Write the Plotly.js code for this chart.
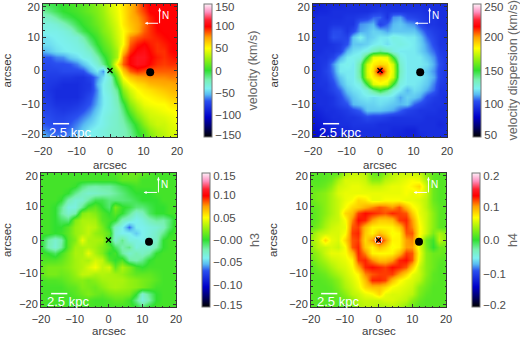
<!DOCTYPE html>
<html><head><meta charset="utf-8">
<script src="https://cdn.plot.ly/plotly-3.0.1.min.js"></script>
<style>html,body{margin:0;padding:0;background:#fff}#c{width:520px;height:337px}</style>
</head><body><div id="c"></div>
<script>
const arcsec=[-20,-18,-16,-14,-12,-10,-8,-6,-4,-2,0,2,4,6,8,10,12,14,16,18,20];
const rowsY=[20,18,16,14,12,10,8,6,4,2,0,-2,-4,-6,-8,-10,-12,-14,-16,-18,-20];
const velocity=[
[-8,-5,-3,2,5,8,10,15,22,28,40,48,58,68,80,95,100,100,100,100,100],
[-18,-12,-6,0,3,6,10,15,20,27,38,46,56,68,80,90,100,100,100,100,100],
[-28,-25,-18,-8,-3,2,6,10,18,25,35,45,55,68,75,85,95,100,100,100,100],
[-35,-35,-32,-25,-15,-5,2,8,15,22,32,42,55,65,72,82,92,100,100,100,100],
[-38,-38,-38,-35,-30,-15,-5,3,10,20,28,40,50,62,72,85,92,98,100,100,100],
[-45,-42,-40,-38,-35,-32,-20,-5,5,15,25,38,50,78,85,90,92,95,98,100,100],
[-45,-45,-42,-40,-38,-35,-30,-15,0,10,20,35,50,85,95,100,95,92,95,98,100],
[-55,-50,-45,-42,-40,-38,-35,-28,-10,5,15,30,65,92,102,105,98,92,92,98,100],
[-68,-68,-62,-60,-50,-45,-38,-35,-22,-5,12,30,80,100,108,108,100,95,92,95,98],
[-72,-72,-70,-70,-68,-62,-52,-42,-32,-15,10,55,85,100,108,105,98,92,90,92,92],
[-75,-75,-75,-72,-72,-72,-70,-55,-42,-60,0,30,65,85,92,88,85,85,85,85,85],
[-75,-78,-78,-80,-80,-82,-82,-75,-60,-45,-30,15,50,65,72,75,78,78,78,80,80],
[-78,-80,-82,-85,-85,-85,-82,-80,-55,-40,-30,0,35,50,58,62,68,70,72,72,75],
[-78,-82,-85,-85,-85,-85,-82,-78,-60,-40,-32,-15,22,40,50,55,58,62,65,68,70],
[-78,-80,-85,-85,-85,-85,-80,-72,-58,-42,-35,-22,10,32,45,50,52,55,58,62,65],
[-75,-78,-82,-82,-82,-80,-75,-68,-55,-42,-35,-25,-5,22,35,45,48,50,50,55,58],
[-75,-75,-78,-80,-78,-75,-70,-62,-50,-40,-35,-28,-12,12,28,38,42,45,48,50,52],
[-70,-72,-75,-75,-72,-68,-62,-55,-45,-38,-32,-28,-18,0,18,30,38,40,42,45,48],
[-68,-70,-72,-72,-68,-62,-55,-48,-42,-38,-32,-28,-22,-10,5,22,32,38,38,42,45],
[-62,-66,-68,-68,-64,-58,-50,-42,-38,-35,-30,-28,-25,-15,0,12,25,32,36,40,42],
[-50,-62,-64,-64,-60,-55,-45,-40,-38,-35,-30,-28,-25,-18,-5,5,18,28,32,38,42]];
const dispersion=[
[90,90,92,92,92,94,94,94,94,94,94,94,94,94,94,94,94,94,94,94,94],
[90,92,92,94,94,94,94,94,94,96,98,96,96,96,96,96,96,94,94,94,94],
[92,94,94,94,94,96,96,98,100,106,106,96,110,112,102,100,98,96,96,94,94],
[94,94,94,96,96,96,96,110,112,114,100,106,114,116,112,110,102,96,96,94,94],
[94,94,94,102,102,96,102,112,114,118,116,112,116,116,116,116,110,102,98,96,94],
[94,94,94,104,102,100,116,124,116,118,122,122,126,124,122,122,116,106,100,96,94],
[94,94,94,96,98,104,116,116,118,122,124,120,124,126,124,122,118,110,102,96,96],
[94,94,96,96,100,114,120,122,126,134,140,134,126,122,122,122,118,112,106,98,96],
[94,96,96,100,112,122,124,126,150,180,182,180,150,126,122,122,122,116,110,100,96],
[94,96,98,110,122,124,122,138,176,186,190,188,176,130,122,122,122,120,112,102,96],
[94,96,100,108,122,122,122,140,178,190,228,192,178,132,122,122,120,116,110,100,96],
[94,96,98,106,116,122,122,138,176,186,192,188,176,130,122,122,122,118,112,100,96],
[94,96,96,102,112,120,122,126,150,178,182,178,150,126,122,122,120,116,108,98,96],
[94,94,96,100,106,116,120,122,128,140,150,140,128,122,114,120,118,112,106,96,96],
[94,94,94,96,102,110,116,120,122,120,122,122,120,112,118,116,112,102,98,96,94],
[92,94,94,96,100,104,114,116,118,118,120,118,116,114,116,106,102,98,96,96,94],
[90,92,94,94,96,98,102,106,116,116,116,114,112,106,100,98,96,96,96,94,94],
[88,90,92,94,94,96,96,98,102,100,100,98,96,96,96,96,96,94,94,94,94],
[86,88,90,92,94,94,96,96,96,96,94,94,94,94,94,94,94,94,94,92,94],
[84,86,88,90,92,92,94,94,94,94,94,94,92,92,90,90,94,94,94,94,94],
[82,84,86,88,90,92,94,94,94,94,94,92,92,90,90,90,92,94,94,94,94]];
const h3=[
[.005,.005,.005,.005,.005,.005,.005,.005,.005,.005,.005,.008,.012,.015,.015,.012,.008,.005,.005,.005,.005],
[.005,.005,.005,.005,.005,.005,.005,.005,.005,.005,.005,.005,.012,.012,.012,.005,.005,.005,.005,.005,.005],
[.005,.005,.005,.005,.005,.002,-.012,-.018,-.02,-.018,-.018,-.012,-.005,.0,.005,.005,.005,.005,.005,.005,.005],
[.005,.005,.005,.005,.0,-.015,-.025,-.03,-.028,-.025,-.022,-.018,-.012,-.005,.0,.0,.0,.005,.005,.005,.005],
[.005,.005,.005,.0,-.022,-.032,-.03,-.018,-.005,-.005,-.012,-.012,-.012,-.01,-.005,.0,.0,.0,.005,.005,.005],
[.005,.005,.0,-.015,-.035,-.035,-.015,.005,.012,.0,-.01,.018,.002,-.003,-.012,-.012,-.005,.0,.0,.005,.005],
[.005,.005,.0,-.018,-.03,-.022,.02,.025,.02,.008,.0,.01,.0,-.015,-.03,-.025,-.008,.0,.0,.005,.005],
[.005,.005,.0,-.008,-.012,.02,.03,.03,.028,.01,.005,.0,-.025,-.032,-.04,-.035,-.025,-.018,-.02,-.012,.005],
[.005,.005,.0,.0,.01,.025,.03,.035,.032,.018,.0,-.028,-.04,-.065,-.04,-.04,-.035,-.032,-.025,-.01,.005],
[.005,.005,.0,.003,.012,.025,.03,.035,.025,.02,.012,-.032,-.04,-.04,-.05,-.04,-.035,-.028,-.015,.0,.005],
[.0,-.02,-.03,-.022,.01,.02,.045,.03,.03,.028,.0,-.03,-.015,-.035,-.035,-.04,-.032,-.028,.0,.005,.005],
[.0,-.022,-.032,-.018,.01,.028,.03,.032,.028,.02,.01,-.008,-.022,-.015,-.035,-.03,-.032,-.02,.0,.005,.005],
[.005,.0,-.008,.005,.018,.03,.03,.045,.03,.02,.0,.005,-.018,-.03,-.022,-.028,-.02,.0,.005,.005,.005],
[.008,.008,.008,.012,.02,.028,.032,.03,.04,.035,.01,.0,.008,-.018,-.022,-.015,.0,.005,.005,.005,.005],
[.012,.018,.018,.018,.022,.028,.032,.04,.048,.035,.04,.012,.03,.02,.005,.0,.005,.005,.005,.005,.005],
[.012,.018,.018,.015,.018,.025,.035,.035,.03,.032,.03,.028,.025,.018,.012,.012,.012,.008,.005,.005,.005],
[.005,.008,.008,.01,.015,.02,.022,.018,.022,.028,.03,.03,.03,.025,.022,.018,.015,.01,.005,.005,.005],
[.005,.005,.005,.005,.01,.012,.02,.018,.015,.022,.028,.03,.028,.025,.022,.018,.012,.005,.005,.005,.005],
[.005,.005,.005,.005,.005,.01,.015,.02,.015,.012,.018,.02,.02,.018,.0,-.03,-.015,.0,.005,.005,.005],
[.005,.005,.005,.005,.005,.005,.008,.008,.005,.005,.008,.012,.012,.005,-.015,-.035,-.02,.0,.005,.005,.005],
[.005,.005,.005,.005,.005,.005,.005,.005,.005,.005,.005,.005,.005,.005,.0,-.01,.0,.005,.005,.005,.005]];
const h4=[
[.012,.012,.012,.015,.015,.04,.05,.05,.045,.02,.015,.03,.045,.05,.05,.05,.05,.03,.015,.012,.012],
[.012,.012,.015,.02,.04,.055,.055,.055,.05,.03,.03,.045,.05,.055,.06,.065,.06,.04,.015,.012,.012],
[.015,.015,.02,.03,.05,.055,.06,.06,.055,.05,.05,.055,.06,.06,.065,.07,.08,.05,.02,.012,.012],
[.02,.025,.03,.04,.055,.06,.06,.06,.06,.06,.06,.06,.06,.06,.065,.06,.065,.05,.02,.012,.012],
[.018,.025,.03,.04,.05,.06,.065,.08,.075,.06,.06,.065,.065,.065,.06,.06,.055,.045,.02,.012,.012],
[.015,.02,.03,.04,.05,.065,.08,.085,.095,.105,.115,.11,.1,.115,.09,.07,.06,.045,.025,.015,.012],
[.012,.02,.03,.04,.05,.08,.09,.12,.13,.125,.12,.115,.125,.12,.115,.085,.06,.05,.03,.015,.012],
[.012,.02,.035,.045,.05,.065,.105,.13,.125,.1,.085,.085,.09,.12,.125,.1,.065,.05,.03,.015,.012],
[.015,.025,.04,.05,.055,.06,.115,.12,.09,.07,.07,.07,.07,.085,.12,.105,.07,.05,.03,.015,.012],
[.03,.045,.05,.055,.055,.065,.12,.125,.085,.07,.09,.08,.065,.07,.115,.115,.07,.05,.025,.04,.03],
[.035,.05,.08,.06,.055,.08,.115,.12,.08,.1,.135,.105,.07,.07,.1,.105,.065,.02,.005,.045,.03],
[.03,.045,.05,.055,.05,.065,.115,.125,.085,.07,.09,.08,.065,.07,.1,.1,.06,.025,.0,.02,.02],
[.025,.035,.05,.06,.06,.065,.09,.125,.105,.07,.068,.068,.07,.09,.12,.115,.065,.03,.02,.02,.015],
[.018,.03,.04,.05,.055,.06,.07,.12,.125,.105,.09,.09,.1,.125,.13,.115,.06,.03,.02,.015,.012],
[.012,.022,.03,.04,.05,.055,.065,.095,.125,.13,.125,.12,.13,.125,.115,.085,.05,.03,.02,.012,.012],
[.012,.015,.02,.03,.04,.05,.06,.07,.105,.115,.12,.12,.12,.1,.08,.06,.05,.03,.015,.012,.012],
[.012,.012,.015,.02,.03,.045,.055,.065,.09,.125,.125,.12,.09,.07,.06,.055,.045,.025,.015,.012,.012],
[.012,.012,.012,.015,.025,.04,.05,.06,.08,.09,.09,.08,.065,.06,.055,.05,.03,.02,.012,.012,.012],
[.012,.012,.012,.012,.018,.03,.045,.05,.06,.065,.08,.06,.055,.055,.05,.045,.025,.015,.012,.012,.012],
[.012,.012,.012,.012,.015,.02,.03,.045,.05,.05,.05,.055,.055,.05,.045,.03,.018,.012,.012,.012,.012],
[.012,.012,.012,.012,.012,.015,.02,.04,.045,.045,.04,.04,.045,.04,.03,.018,.012,.012,.012,.012,.012]];
const axisTicks=[-20,-10,0,10,20];
const barTitles=['velocity (km/s)','velocity dispersion (km/s)','h3','h4'];
const barTicks=[[-150,-100,-50,0,50,100,150],[50,100,150,200,250],[-0.15,-0.10,-0.05,0,0.05,0.10,0.15],[-0.2,-0.1,0,0.1,0.2]];
const barLabels=[['−150','−100','−50','0','50','100','150'],['50','100','150','200','250'],['−0.15','−0.10','−0.05','−0.00','0.05','0.10','0.15'],['−0.2','−0.1','0.0','0.1','0.2']];
const ranges=[[-150,150],[50,250],[-0.15,0.15],[-0.2,0.2]];
const companion={x:[12],y:[-0.5]};
const nucleus={x:[0],y:[0]};
const scaleBarLabel='2.5 kpc';

const W=520,H=337;
const colors=[[0,'#000000'],[0.08,'#000070'],[0.15,'#0000c8'],[0.27,'#2a50f0'],[0.32,'#58bcf2'],[0.365,'#7cf0f0'],[0.43,'#78f0b0'],[0.5,'#30e030'],[0.58,'#90f010'],[0.667,'#ffff00'],[0.75,'#ffa000'],[0.83,'#ff0000'],[0.88,'#ff2030'],[0.94,'#ff90c0'],[1,'#fff0f8']];
const boxes=[
 {l:43,r:177,t:4,b:137,cb:204,title:253,ytx:7,xty:165,sd:4},
 {l:313,r:447,t:4,b:137,cb:473,title:513,ytx:274,xty:165,sd:4},
 {l:41,r:176,t:173,b:307,cb:202,title:255,ytx:7,xty:330.5,sd:2},
 {l:311,r:446,t:173,b:307,cb:472,title:513,ytx:273,xty:330.5,sd:2}];
const grids=[velocity,dispersion,h3,h4];
const font='"Liberation Sans",Arial,sans-serif', ink='#3a3a3a';
const data=[],layout={width:W,height:H,margin:{l:0,r:0,t:0,b:0},paper_bgcolor:'#fff',plot_bgcolor:'#fff',showlegend:false,font:{family:font,size:11,color:ink},shapes:[],annotations:[]};
// end labels sit just inside the frame, as in the reference
const inset=(v,lo,hi)=>v===hi?hi-(hi-lo)*0.022:v===lo?lo+(hi-lo)*0.018:v;
boxes.forEach((b,i)=>{
  const s=i?String(i+1):'';
  const [lo,hi]=ranges[i];
  data.push({type:'heatmap',x:arcsec,y:rowsY,z:grids[i],xaxis:'x'+s,yaxis:'y'+s,zmin:lo,zmax:hi,zsmooth:'best',colorscale:colors,hoverinfo:'skip',
    colorbar:{xref:'paper',yref:'paper',x:b.cb/W,xanchor:'left',y:1-b.b/H,yanchor:'bottom',lenmode:'pixels',len:b.b-b.t,thicknessmode:'pixels',thickness:8,xpad:0,ypad:0,outlinecolor:'#777',outlinewidth:1,ticks:'',tickvals:barTicks[i].map(v=>inset(v,lo,hi)),ticktext:barLabels[i],tickfont:{family:font,size:11.5,color:'#4a4a4a'}}});
  data.push({type:'scatter',mode:'markers',x:companion.x,y:companion.y,xaxis:'x'+s,yaxis:'y'+s,hoverinfo:'skip',marker:{size:8,color:'#000',line:{width:0}}});
  if(i===3) data.push({type:'scatter',mode:'markers',x:nucleus.x,y:nucleus.y,xaxis:'x'+s,yaxis:'y'+s,hoverinfo:'skip',marker:{size:7,color:'rgba(0,0,0,0)',line:{width:1,color:'#fff'}}});
  data.push({type:'scatter',mode:'markers',x:nucleus.x,y:nucleus.y,xaxis:'x'+s,yaxis:'y'+s,hoverinfo:'skip',marker:{symbol:'x-thin',size:5,color:'#000',line:{width:1.2,color:'#000'}}});
  const ax=(dom)=>({domain:dom,range:[-20,20],ticks:'inside',ticklen:3,tickwidth:1,tickcolor:'#333',minor:{dtick:2,ticks:'inside',ticklen:1.5,tickcolor:'#333',tickwidth:1},showline:true,linecolor:'#333',linewidth:1,mirror:'allticks',showgrid:false,zeroline:false,tickfont:{family:font,size:11,color:ink},ticktext:axisTicks.map(v=>String(v).replace('-','−'))});
  layout['xaxis'+s]=Object.assign(ax([b.l/W,b.r/W]),{anchor:'y'+s,tickvals:axisTicks,ticklabelstandoff:b.sd});
  layout['yaxis'+s]=Object.assign(ax([1-b.b/H,1-b.t/H]),{anchor:'x'+s,tickvals:axisTicks.map(v=>inset(v,-20,20))});
  const xr='x'+s,yr='y'+s;
  layout.annotations.push({xref:'paper',yref:'paper',x:(b.l+b.r)/2/W,y:1-b.xty/H,text:'arcsec',showarrow:false,xanchor:'center',yanchor:'middle',font:{family:font,size:11.5,color:ink}});
  layout.annotations.push({xref:'paper',yref:'paper',x:b.ytx/W,y:1-(b.t+b.b)/2/H,text:'arcsec',textangle:-90,showarrow:false,xanchor:'center',yanchor:'middle',font:{family:font,size:11.5,color:ink}});
  layout.shapes.push({type:'line',xref:xr,yref:yr,x0:-17,x1:-12.2,y0:-16,y1:-16,line:{color:'#fff',width:1.5}});
  layout.shapes.push({type:'line',xref:xr,yref:yr,x0:14.8,x1:14.8,y0:14.2,y1:18.7,line:{color:'#fff',width:1}});
  layout.annotations.push({xref:xr,yref:yr,x:-12,y:-18.5,text:scaleBarLabel,showarrow:false,font:{family:font,size:13,color:'#fff'}});
  layout.annotations.push({xref:xr,yref:yr,x:16.6,y:16.5,text:'N',showarrow:false,font:{family:font,size:10,color:'#fff'}});
  layout.annotations.push({xref:xr,yref:yr,axref:xr,ayref:yr,x:10.4,y:14.2,ax:14.8,ay:14.2,text:'',showarrow:true,arrowhead:2,arrowsize:0.6,arrowwidth:1,arrowcolor:'#fff'});
  layout.annotations.push({xref:xr,yref:yr,axref:xr,ayref:yr,x:14.8,y:18.7,ax:14.8,ay:17,text:'',showarrow:true,arrowhead:2,arrowsize:0.6,arrowwidth:1,arrowcolor:'#fff'});
  layout.annotations.push({xref:'paper',yref:'paper',x:b.title/W,y:1-(b.t+b.b)/2/H,text:barTitles[i],textangle:-90,showarrow:false,xanchor:'center',yanchor:'middle',font:{family:font,size:12.5,color:'#666'}});
});
Plotly.newPlot('c',data,layout,{staticPlot:true,displayModeBar:false});
</script></body></html>
